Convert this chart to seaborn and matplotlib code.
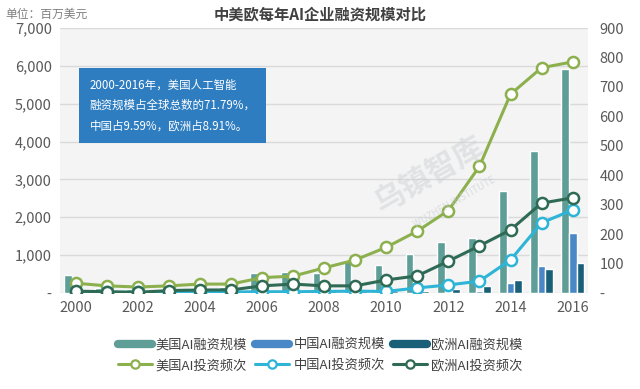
import numpy as np
import pandas as pd
import matplotlib
matplotlib.use("Agg")
import matplotlib.pyplot as plt
import seaborn as sns
from matplotlib.lines import Line2D

# ── data ──────────────────────────────────────────────────────────────
years = list(range(2000, 2017))
us_funding = [470, 120, 100, 110, 130, 150, 530, 550, 530, 850, 740, 1030, 1350, 1450, 2690, 3750, 5910]
cn_funding = [5, 5, 5, 5, 5, 10, 15, 20, 20, 20, 20, 30, 30, 60, 260, 710, 1580]
eu_funding = [20, 10, 10, 10, 15, 20, 40, 50, 60, 50, 50, 50, 100, 180, 350, 630, 790]
us_freq = [33, 24, 20, 24, 30, 30, 52, 57, 85, 112, 155, 210, 280, 430, 675, 765, 785]
cn_freq = [2, 2, 2, 2, 3, 3, 4, 4, 5, 6, 5, 17, 27, 40, 112, 238, 282]
eu_freq = [6, 4, 2, 8, 10, 10, 24, 30, 24, 24, 44, 58, 108, 160, 214, 305, 323]

bar_names = ["美国AI融资规模", "中国AI融资规模", "欧洲AI融资规模"]
line_names = ["美国AI投资频次", "中国AI投资频次", "欧洲AI投资频次"]
bar_colors = ["#5E9E97", "#4A87C6", "#1A5F78"]
line_colors = ["#8DB04E", "#2DB4D6", "#2F6A55"]

note = "2000-2016年，美国人工智能\n融资规模占全球总数的71.79%，\n中国占9.59%，欧洲占8.91%。"

# ── style ─────────────────────────────────────────────────────────────
sns.set_theme(style="white")
plt.rcParams["font.family"] = ["Noto Sans CJK SC", "DejaVu Sans"]
tick_color = "#595959"

fig = plt.figure(figsize=(6.4, 3.89), dpi=100)
ax = fig.add_axes([0.094, 0.247, 0.825, 0.681])
ax.set_facecolor("#F4F4F4")

bars = pd.DataFrame({
    "year": np.tile(years, 3),
    "value": us_funding + cn_funding + eu_funding,
    "series": np.repeat(bar_names, len(years)),
})
sns.barplot(data=bars, x="year", y="value", hue="series", hue_order=bar_names,
            palette=bar_colors, width=0.75, saturation=1, legend=False, ax=ax)

ax.set_ylim(0, 7000)
ax.set_xlim(-0.5, len(years) - 0.5)
ax.set_yticks(range(0, 7001, 1000))
ax.set_yticklabels(["-"] + [f"{v:,}" for v in range(1000, 7001, 1000)])
ax.set_xticks(range(0, len(years), 2))
ax.set_xticklabels([str(y) for y in years[::2]])
ax.grid(axis="y", color="#DADADA", linewidth=1)
ax.set_axisbelow(True)
ax.set_xlabel("")
ax.set_ylabel("")
for s in ax.spines.values():
    s.set_visible(False)
ax.tick_params(axis="both", length=0, labelsize=10.5, colors=tick_color, pad=6)

# ── right axis: frequency lines ───────────────────────────────────────
ax2 = ax.twinx()
idx = np.arange(len(years))
for vals, col in zip([us_freq, cn_freq, eu_freq], line_colors):
    sns.lineplot(x=idx, y=vals, color=col, linewidth=2.2, marker="o",
                 markersize=8, markerfacecolor="white", markeredgecolor=col,
                 markeredgewidth=1.8, ax=ax2)
ax2.set_ylim(0, 900)
ax2.set_yticks(range(0, 901, 100))
ax2.set_yticklabels(["-"] + [str(v) for v in range(100, 901, 100)])
for s in ax2.spines.values():
    s.set_visible(False)
ax2.tick_params(axis="y", length=0, labelsize=10.5, colors=tick_color, pad=8)
ax2.set_xlim(-0.5, len(years) - 0.5)

# ── text ──────────────────────────────────────────────────────────────
fig.text(0.5, 0.962, "中美欧每年AI企业融资规模对比", ha="center", va="center",
         fontsize=11, fontweight="bold", color="#404040")
fig.text(0.008, 0.962, "单位：百万美元", ha="left", va="center",
         fontsize=8.5, color="#7F7F7F")

ax.text(0.056, 0.81, note, transform=ax.transAxes, ha="left", va="top",
        fontsize=8.3, color="white", linespacing=1.75,
        bbox=dict(boxstyle="square,pad=0.9", facecolor="#2E7DC0", edgecolor="none"))

# faint watermark
fig.text(0.67, 0.55, "乌镇智库", rotation=30, fontsize=22, color="#C8CDD2",
         alpha=0.45, ha="center", va="center", fontweight="bold")
fig.text(0.71, 0.48, "WUZHEN INSTITUTE", rotation=30, fontsize=7, color="#C8CDD2",
         alpha=0.6, ha="center", va="center")

# ── legend ────────────────────────────────────────────────────────────
handles, labels = [], []
for bn, bc, ln, lc in zip(bar_names, bar_colors, line_names, line_colors):
    handles.append(Line2D([0], [0], color=bc, linewidth=6))
    labels.append(bn)
    handles.append(Line2D([0], [0], color=lc, linewidth=2.2, marker="o",
                          markersize=6, markerfacecolor="white",
                          markeredgecolor=lc, markeredgewidth=1.6))
    labels.append(ln)
leg = fig.legend(handles, labels, ncol=3, loc="center", bbox_to_anchor=(0.5, 0.087),
                 frameon=False, fontsize=9.5, handlelength=2.6, handletextpad=0.3,
                 columnspacing=0.6, labelspacing=0.6)
for t in leg.get_texts():
    t.set_color("#404040")

fig.savefig("out.png", dpi=100, facecolor="white")
